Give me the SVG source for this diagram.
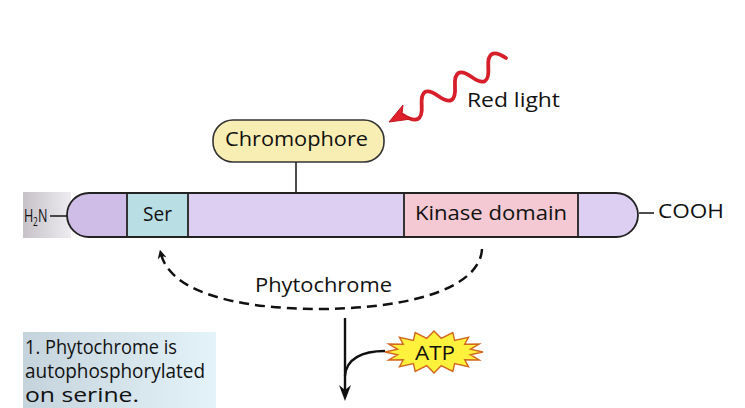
<svg xmlns="http://www.w3.org/2000/svg" width="745" height="408" viewBox="0 0 745 408">
<style>
text{font-family:"Open Sans","Noto Sans","Liberation Sans",sans-serif;fill:#111;font-weight:500}
.lbl{font-size:20px}
.out{stroke:#222;stroke-width:1.8}
.conn{fill:none;stroke:#111;stroke-width:2.4}
</style>
<defs>
<linearGradient id="grayStrip" x1="0" y1="0" x2="1" y2="0">
<stop offset="0" stop-color="#c6c2c8"/><stop offset="1" stop-color="#eeecf0"/>
</linearGradient>
<linearGradient id="noteFill" x1="0" y1="0" x2="1" y2="0">
<stop offset="0" stop-color="#c5d3dc"/><stop offset="1" stop-color="#e4f2f9"/>
</linearGradient>
<marker id="arrSmall" viewBox="0 0 10 10" refX="5" refY="5" markerWidth="9" markerHeight="9" markerUnits="userSpaceOnUse" orient="auto">
<path d="M0,0 L10,5 L0,10 L3,5 Z" fill="#111"/>
</marker>
</defs>
<rect width="745" height="408" fill="#fff"/>

<g id="node-protein">
<rect x="23" y="192" width="48" height="46" fill="url(#grayStrip)"/>
<rect x="67" y="193" width="571" height="44" rx="22" ry="22" fill="#dccff1"/>
<path d="M127,193 L89,193 A22,22 0 0 0 89,237 L127,237 Z" fill="#cfbde8"/>
<text transform="translate(24,222) scale(0.7,1)" font-size="18"><tspan x="0">H</tspan><tspan x="13" dy="4" font-size="12">2</tspan><tspan x="20" dy="-4">N</tspan></text>
<line x1="50" y1="216" x2="67" y2="216" stroke="#222" stroke-width="1.6"/>
<line x1="639" y1="213" x2="654" y2="213" stroke="#222" stroke-width="1.6"/>
<text class="lbl" x="658" y="218" textLength="66" lengthAdjust="spacingAndGlyphs">COOH</text>
</g>

<g id="node-ser">
<rect x="127" y="193" width="61" height="44" fill="#b9dfe5" class="out"/>
<text class="lbl" x="143" y="221" font-size="19" textLength="29" lengthAdjust="spacingAndGlyphs">Ser</text>
</g>

<g id="node-kinase">
<rect x="404" y="193" width="174" height="44" fill="#f5c9d3" class="out"/>
<text class="lbl" x="415" y="220" font-size="19" textLength="152" lengthAdjust="spacingAndGlyphs">Kinase domain</text>
</g>

<rect x="67" y="193" width="571" height="44" rx="22" ry="22" fill="none" class="out"/>

<g id="node-chromophore">
<rect x="213" y="120" width="171" height="42" rx="20" ry="20" fill="#f8eeb3" stroke="#333" stroke-width="1.6"/>
<text class="lbl" x="225" y="146" font-size="21" textLength="143" lengthAdjust="spacingAndGlyphs">Chromophore</text>
</g>

<g id="node-redlight">
<path d="M506,58 Q486.8,45.2 488.3,67.5 T471.7,77 T455,86.5 T438.3,96 T421.7,105.5 T403,115" fill="none" stroke="#d61f2b" stroke-width="3.8" stroke-linecap="round"/>
<path d="M389,122 L403,105 L402,114 L411,119 Z" fill="#e0202c" stroke="#c01820" stroke-width="1"/>
<text class="lbl" x="467" y="107" textLength="93" lengthAdjust="spacingAndGlyphs">Red light</text>
</g>

<g id="node-atp">
<polygon points="483,352 470.3,354.7 479.3,360 464.7,359.8 468.6,366.8 454.6,363.6 452.8,371.4 441.2,365.7 434,373 426.8,365.7 415.2,371.4 413.4,363.6 399.4,366.8 403.3,359.8 388.7,360 397.7,354.7 385,352 397.7,349.3 388.7,344 403.3,344.2 399.4,337.2 413.4,340.4 415.2,332.6 426.8,338.3 434,331 441.2,338.3 452.8,332.6 454.6,340.4 468.6,337.2 464.7,344.2 479.3,344 470.3,349.3" fill="#fff23c" stroke="#d2691e" stroke-width="1.4" stroke-linejoin="miter"/>
<text class="lbl" x="415" y="360" textLength="40" lengthAdjust="spacingAndGlyphs">ATP</text>
</g>

<g id="node-note">
<rect x="23" y="332" width="193" height="76" fill="url(#noteFill)"/>
<text class="lbl" x="25" y="354" font-size="17" textLength="152" lengthAdjust="spacingAndGlyphs">1. Phytochrome is</text>
<text class="lbl" x="25" y="378" font-size="17" textLength="180" lengthAdjust="spacingAndGlyphs">autophosphorylated</text>
<text class="lbl" x="25" y="402" font-size="17" textLength="114" lengthAdjust="spacingAndGlyphs">on serine.</text>
</g>

<g id="label-phytochrome">
<text class="lbl" x="255" y="292" font-size="20" textLength="137" lengthAdjust="spacingAndGlyphs">Phytochrome</text>
</g>

<g id="connectors">
<line x1="296" y1="162" x2="296" y2="193" stroke="#222" stroke-width="1.6"/>
<path d="M482,249 C480,285 420,308 322,309 C230,309 170,290 161,254" fill="none" stroke="#111" stroke-width="2.5" stroke-dasharray="10,6" marker-end="url(#arrSmall)"/>
<line x1="345" y1="318" x2="345" y2="392" class="conn"/>
<path d="M345,401 L339,385 L345,390 L351,385 Z" fill="#111"/>
<path d="M385,351 C362,351 346,359 345,376" class="conn"/>
</g>
</svg>
